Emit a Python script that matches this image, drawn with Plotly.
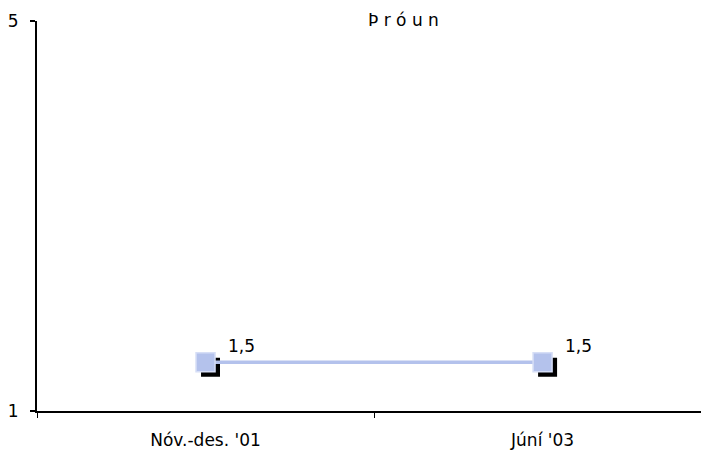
import plotly.graph_objects as go

categories = ["Nóv.-des. '01", "Júní '03"]
values = [1.5, 1.5]
value_labels = ["1,5", "1,5"]
title_text = "Þ r ó u n"
y_ticks = [1, 5]

W, H = 701, 453
ML, MT, MB, MR = 37, 21, 42, 0
plot_w = W - ML - MR
plot_h = H - MT - MB
x_range = [-0.5, 1.47]
y_range = [1, 5]
px_per_x = plot_w / (x_range[1] - x_range[0])
px_per_y = plot_h / (y_range[1] - y_range[0])
sh = 5  # shadow offset in px

font = "DejaVu Sans, Liberation Sans, Arial, sans-serif"
fs = 17

fig = go.Figure()
# shadow trace on hidden, shifted base axes (drawn underneath)
fig.add_trace(go.Scatter(
    x=categories, y=values, mode="markers",
    marker=dict(symbol="square", size=19, color="black"),
    xaxis="x", yaxis="y", hoverinfo="skip", showlegend=False))
# main series on the visible overlay axes
fig.add_trace(go.Scatter(
    x=categories, y=values, mode="lines+markers",
    line=dict(color="#b4c2ec", width=3.5),
    marker=dict(symbol="square", size=19, color="#b4c2ec",
                line=dict(color="#d6def6", width=1.5)),
    xaxis="x2", yaxis="y2", showlegend=False))

annots = []
for c, v, t in zip(categories, values, value_labels):
    annots.append(dict(x=c, y=v, xref="x2", yref="y2", text=t, showarrow=False,
                       xshift=36, yshift=16,
                       font=dict(family=font, size=fs, color="black")))
annots.append(dict(
    text=title_text, xref="paper", yref="paper", x=(403 - ML) / plot_w, y=1,
    yshift=1, showarrow=False, xanchor="center", yanchor="middle",
    font=dict(family=font, size=fs, color="black")))

fig.update_layout(
    width=W, height=H,
    margin=dict(l=ML, r=MR, t=MT, b=MB, pad=0),
    paper_bgcolor="white", plot_bgcolor="white",
    showlegend=False,
    annotations=annots,
    xaxis=dict(type="category", range=[x_range[0] - sh / px_per_x, x_range[1] - sh / px_per_x],
               visible=False, fixedrange=True),
    yaxis=dict(range=[y_range[0] + sh / px_per_y, y_range[1] + sh / px_per_y],
               visible=False, fixedrange=True),
    xaxis2=dict(type="category", overlaying="x", anchor="y2", side="bottom", range=x_range,
                showline=True, linecolor="black", linewidth=2,
                ticks="outside", tickson="boundaries", ticklen=5, tickcolor="black", tickwidth=1,
                showgrid=False, zeroline=False, tickfont=dict(family=font, size=fs, color="black"),
                ticklabelstandoff=13, fixedrange=True),
    yaxis2=dict(overlaying="y", anchor="x2", side="left", range=y_range,
                tickvals=y_ticks, ticktext=[str(v) for v in y_ticks],
                showline=True, linecolor="black", linewidth=2,
                ticks="outside", ticklen=5, tickcolor="black", tickwidth=2,
                showgrid=False, zeroline=False, tickfont=dict(family=font, size=fs, color="black"),
                ticklabelstandoff=8, fixedrange=True),
)

fig.write_html("out.html", config={"displayModeBar": False},
               post_script="document.body.style.margin='0';document.body.style.overflow='hidden';")
